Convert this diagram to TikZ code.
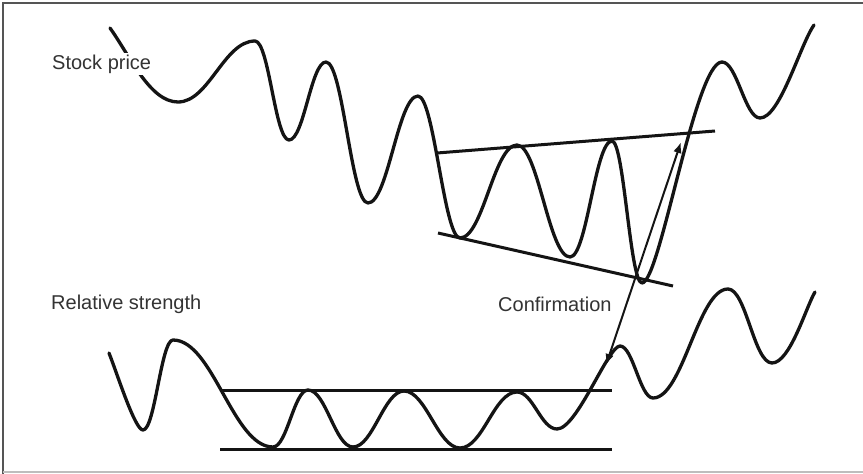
\documentclass[tikz,border=0pt]{standalone}
\usepackage{fontspec}
\setmainfont{Liberation Sans}
\usetikzlibrary{arrows.meta}
\definecolor{ink}{HTML}{141414}
\definecolor{txt}{HTML}{333333}
\definecolor{frameA}{HTML}{555555}
\definecolor{frameB}{HTML}{BDBDBD}
\begin{document}
\begin{tikzpicture}[x=1pt,y=-1pt,
 curve/.style={draw=ink,line width=3.3pt,line join=round,line cap=round},
 trend/.style={draw=ink,line width=3pt},
 confarrow/.style={draw=ink,line width=2pt,{Latex[length=11pt,width=8.5pt]}-{Latex[length=11pt,width=8.5pt]}},
 lbl/.style={text=txt,font=\fontsize{20}{24}\selectfont,inner sep=0pt}]
\useasboundingbox (0,0) rectangle (863,474);
\fill[white] (0,0) rectangle (863,474);
\draw[frameA,line width=2.5pt] (3,474) -- (3,3) -- (863,3);
\draw[frameB,line width=2pt] (3,472) -- (863,472);

% stock price curve
\draw[curve] (110,28) .. controls (130,56) and (150,102) .. (178,102)
 .. controls (209,102) and (224,41) .. (255,41)
 .. controls (269,41) and (275,140) .. (289,140)
 .. controls (304,140) and (311,62) .. (326,62)
 .. controls (343,62) and (351,203) .. (368,203)
 .. controls (388,203) and (398,96) .. (418,96)
 .. controls (434,96) and (444,238) .. (460,238)
 .. controls (483,238) and (494,145) .. (517,145)
 .. controls (538,145) and (549,257) .. (570,257)
 .. controls (587,257) and (595,141) .. (612,141)
 .. controls (624,141) and (630,283) .. (642,283)
 .. controls (660,283) and (695,62) .. (722,62)
 .. controls (737,62) and (745,118) .. (760,118)
 .. controls (780,118) and (800,45) .. (814,25);
\node[lbl,fill=white,inner sep=2pt,anchor=base west] (sp) at (50,69) {Stock price};

% triangle lines
\coordinate (tu1) at (437,153); \coordinate (tu2) at (715,131);
\coordinate (tl1) at (438,233); \coordinate (tl2) at (673,286);
\draw[trend] (tu1) -- (tu2);
\draw[trend] (tl1) -- (tl2);

% relative strength curve
\draw[curve] (109,353) .. controls (118,376) and (135,430) .. (143,430)
 .. controls (155,430) and (161,340) .. (173,340)
 .. controls (213,340) and (233,447) .. (273,447)
 .. controls (287,447) and (294,390) .. (308,390)
 .. controls (326,390) and (335,447) .. (353,447)
 .. controls (373,447) and (384,391) .. (404,391)
 .. controls (426,391) and (438,448) .. (460,448)
 .. controls (483,448) and (494,392) .. (517,392)
 .. controls (533,392) and (541,429) .. (557,429)
 .. controls (577,429) and (608,346) .. (620,346)
 .. controls (633,346) and (640,398) .. (653,398)
 .. controls (683,398) and (698,289) .. (728,289)
 .. controls (746,289) and (754,363) .. (772,363)
 .. controls (790,363) and (806,307) .. (815,292);
\node[lbl,anchor=base west] (rs) at (51,309) {Relative strength};

% rectangle lines
\coordinate (ru1) at (222,390); \coordinate (ru2) at (612,390);
\coordinate (rl1) at (220,449.5); \coordinate (rl2) at (612,449.5);
\draw[trend] (ru1) -- (ru2);
\draw[trend] (rl1) -- (rl2);

% confirmation arrow
\node[lbl,anchor=base west] (cf) at (498,311) {Confirmation};
\coordinate (c1) at (606,365); \coordinate (c2) at (681,142);
\draw[confarrow] (c1) -- (c2);
\end{tikzpicture}
\end{document}
